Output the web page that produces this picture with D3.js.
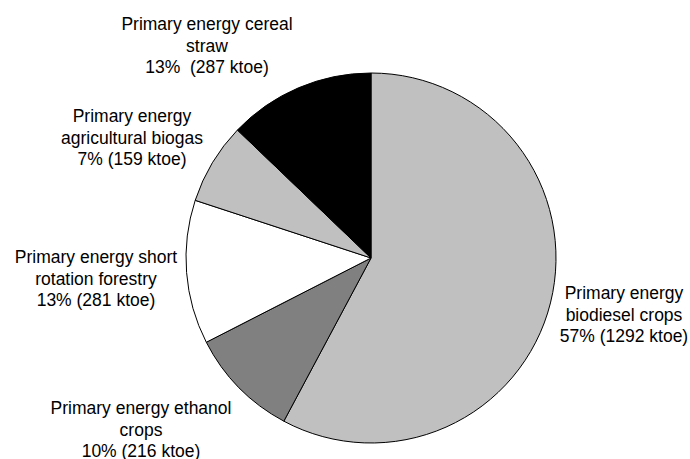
<!DOCTYPE html>
<html>
<head>
<meta charset="utf-8">
<script src="https://cdn.jsdelivr.net/npm/d3@7"></script>
<style>
  body { margin: 0; background: #fff; }
  svg text { font-family: "Liberation Sans", Arial, sans-serif; font-size: 17.5px; fill: #000; }
</style>
</head>
<body>
<div id="chart"></div>
<script>
/* slices, clockwise from 12 o'clock */
var CATEGORIES = ["Primary energy biodiesel crops", "Primary energy ethanol crops",
    "Primary energy short rotation forestry", "Primary energy agricultural biogas",
    "Primary energy cereal straw"];
var VALUES = [1292, 216, 281, 159, 287];
var PERCENT_LABELS = ["57%", "10%", "13%", "7%", "13% "];
var LABEL_LINES = [
    ["Primary energy", "biodiesel crops"],
    ["Primary energy ethanol", "crops"],
    ["Primary energy short", "rotation forestry"],
    ["Primary energy", "agricultural biogas"],
    ["Primary energy cereal", "straw"]
];
var FILLS = ["#c0c0c0", "#808080", "#ffffff", "#c0c0c0", "#000000"];

/* where the label blocks sit (centre x, first baseline y) */
var LABEL_POS = [[624, 299], [141, 414], [96, 263], [132, 122], [207, 30]];

var width = 690, height = 459;
var cx = 371, cy = 258, radius = 185;
var lineHeight = 21.6;

var svg = d3.select("#chart").append("svg")
    .attr("width", width)
    .attr("height", height);

var g = svg.append("g").attr("transform", "translate(" + cx + "," + cy + ")");

var pie = d3.pie().sort(null).value(function(d){ return d; });
var arc = d3.arc().innerRadius(0).outerRadius(radius);

g.selectAll("path.slice")
    .data(pie(VALUES))
    .enter()
    .append("path")
    .classed("slice", true)
    .attr("d", arc)
    .attr("fill", function(d, i){ return FILLS[i]; })
    .attr("stroke", "#000")
    .attr("stroke-width", 1)
    .attr("stroke-linejoin", "round");

/* labels */
CATEGORIES.forEach(function(cat, i){
    var lines = LABEL_LINES[i].concat([PERCENT_LABELS[i] + " (" + VALUES[i] + " ktoe)"]);
    var t = svg.append("text")
        .attr("text-anchor", "middle")
        .attr("xml:space", "preserve")
        .style("white-space", "pre");
    lines.forEach(function(line, j){
        t.append("tspan")
            .attr("x", LABEL_POS[i][0])
            .attr("y", LABEL_POS[i][1] + j * lineHeight)
            .text(line);
    });
});
</script>
</body>
</html>
